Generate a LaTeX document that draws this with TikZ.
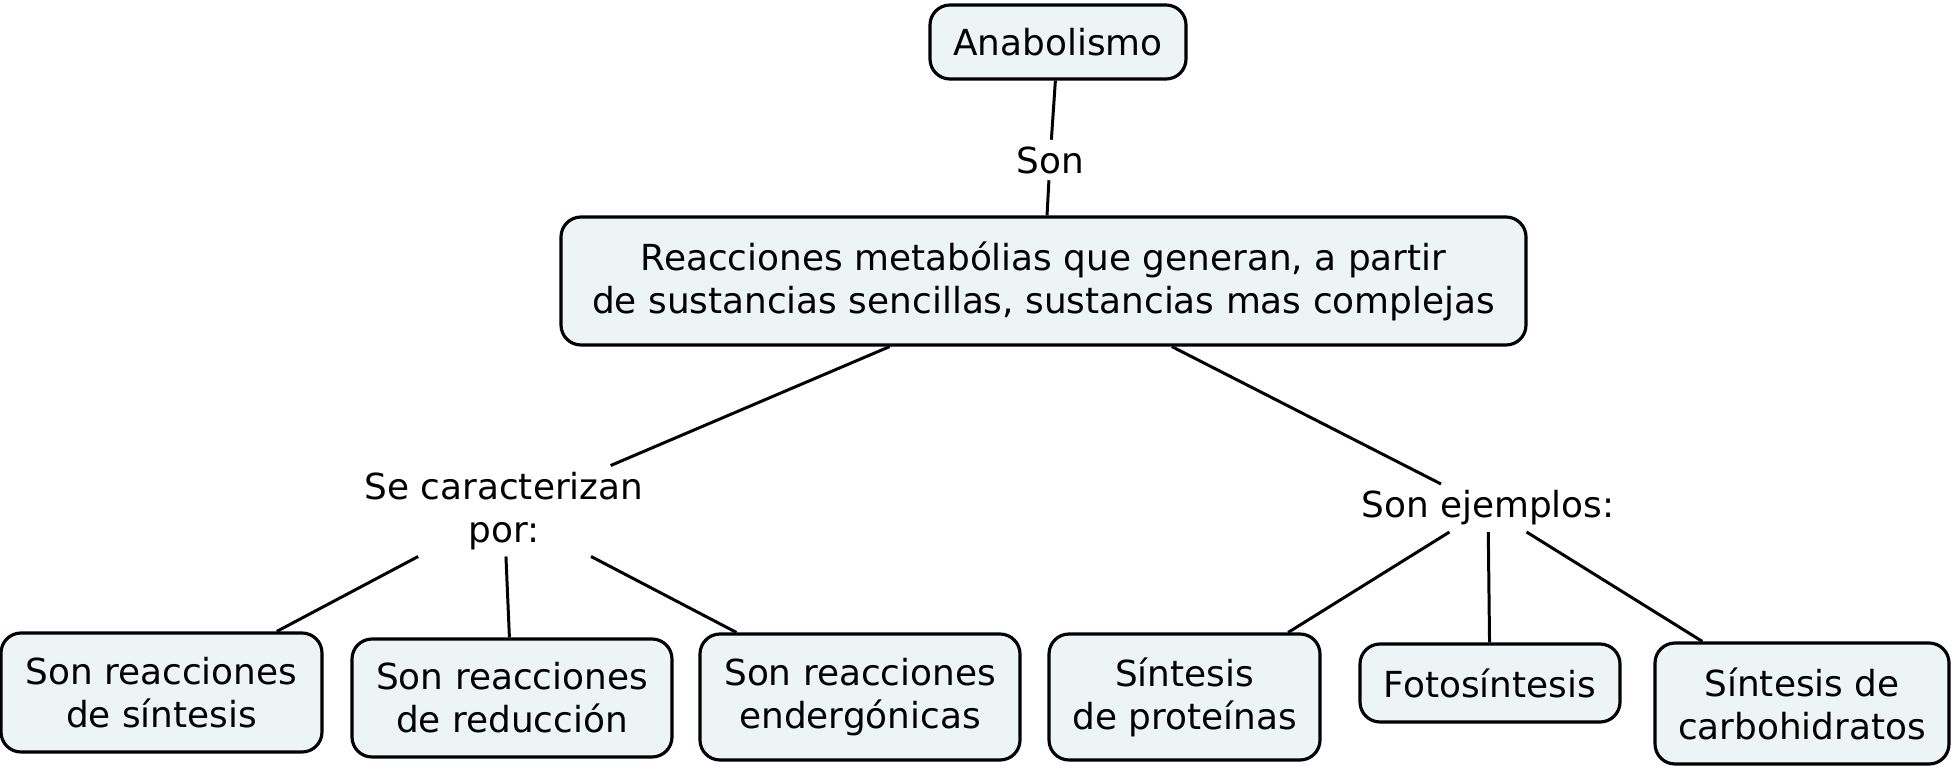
\documentclass[tikz,border=0pt]{standalone}
\usepackage{fontspec}
\setmainfont{DejaVu Sans}
\usepackage{tikz}
\usetikzlibrary{positioning}
\definecolor{conceptfill}{RGB}{237,244,246}
\tikzstyle{concept} = [rectangle, draw, fill=conceptfill, line width=0.9pt, align=center, rounded corners=2mm, inner sep=0pt]
\tikzstyle{linkword} = [rectangle, align=center, inner sep=0.6mm]
\tikzset{edge/.style = {
    line width=0.85pt,
  }
}

\begin{document}
\begin{tikzpicture}[x=1mm, y=-1mm, font=\fontsize{10.2}{12.2}\selectfont]
            \useasboundingbox (0,0) rectangle (195.8,77.1);
            % vertices
            \node[concept, minimum width=25.6mm, minimum height=7.4mm] (ana) at (105.8, 4.2) {Anabolismo};
            \node[concept, minimum width=96.5mm, minimum height=12.8mm] (reac) at (104.35, 28.1) {Reacciones metabólias que generan, a partir\\ de sustancias sencillas, sustancias mas complejas};

            \node[linkword] (son) at (105.0, 16.0) {Son};
            \node[linkword] (carac) at (50.4, 51.1) {Se caracterizan\\ por:};
            \node[linkword] (ejem) at (148.8, 50.8) {Son ejemplos:};

            \node[concept, minimum width=32.1mm, minimum height=11.9mm] (sint) at (16.15, 69.25) {Son reacciones\\ de síntesis};
            \node[concept, minimum width=32.0mm, minimum height=11.8mm] (redu) at (51.2, 69.8) {Son reacciones\\ de reducción};
            \node[concept, minimum width=32.0mm, minimum height=12.6mm] (ender) at (86.0, 69.7) {Son reacciones\\ endergónicas};
            \node[concept, minimum width=27.1mm, minimum height=12.6mm] (prot) at (118.45, 69.7) {Síntesis\\ de proteínas};
            \node[concept, minimum width=26.0mm, minimum height=7.8mm] (foto) at (149.0, 68.3) {Fotosíntesis};
            \node[concept, minimum width=29.4mm, minimum height=12.1mm] (carb) at (180.2, 70.35) {Síntesis de\\ carbohidratos};

            %edges
            \draw[edge] (ana) to (son);
            \draw[edge] (son) to (reac);
            \draw[edge] (reac) to (carac);
            \draw[edge] (reac) to (ejem);
            \draw[edge] (carac) to (sint);
            \draw[edge] (carac) to (redu);
            \draw[edge] (carac) to (ender);
            \draw[edge] (ejem) to (prot);
            \draw[edge] (ejem) to (foto);
            \draw[edge] (ejem) to (carb);
\end{tikzpicture}
\end{document}
